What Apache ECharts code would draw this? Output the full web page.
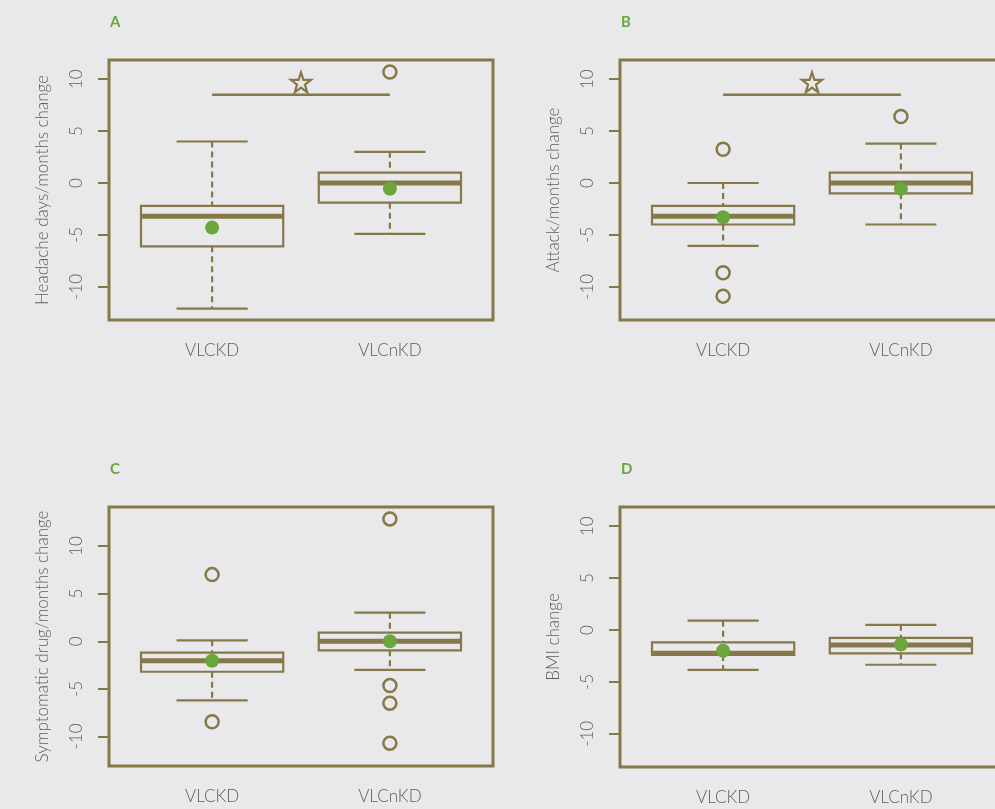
<!DOCTYPE html>
<html lang="en">
<head>
  <meta charset="UTF-8">
  <script src="https://cdn.jsdelivr.net/npm/echarts@6.0.0/dist/echarts.min.js"></script>
  <style>
    html, body { margin: 0; padding: 0; background: #e9e9eb; }
  </style>
</head>
<body>
  <div id="boxChart" style="width: 995px;height:809px;"></div>

  <script type="text/javascript">

    // groups on the x axis
    var groups = ['VLCKD', 'VLCnKD'];
    var panelLetters = ['A', 'B', 'C', 'D'];
    var yNames = [
      'Headache days/months change',
      'Attack/months change',
      'Symptomatic drug/months change',
      'BMI change'
    ];
    var yTicks = [-10, -5, 0, 5, 10];

    // box stats per group: [lower whisker, Q1, median, Q3, upper whisker]
    var statsA = [[-12.1, -6.1, -3.2, -2.2, 4.0], [-4.9, -1.9, 0.0, 1.0, 3.0]];
    var statsB = [[-6.05, -4.0, -3.2, -2.2, 0.0], [-4.0, -1.0, 0.0, 1.0, 3.8]];
    var statsC = [[-6.2, -3.2, -2.05, -1.2, 0.1], [-3.0, -0.95, 0.0, 0.9, 3.0]];
    var statsD = [[-3.85, -2.4, -2.25, -1.2, 0.9], [-3.35, -2.25, -1.45, -0.75, 0.5]];

    // group means
    var meansA = [-4.3, -0.55];
    var meansB = [-3.3, -0.55];
    var meansC = [-2.05, 0.0];
    var meansD = [-2.0, -1.4];

    // outliers: [group index (1-based), value]
    var outliersA = [[2, 10.7]];
    var outliersB = [[1, 3.25], [1, -8.65], [1, -10.9], [2, 6.4]];
    var outliersC = [[1, 7.0], [1, -8.45], [2, 12.85], [2, -4.65], [2, -6.5], [2, -10.7]];
    var outliersD = [];

    // significance bar: [from group, to group, bar value, star value]
    var sigA = [1, 2, 8.5, 9.7];
    var sigB = [1, 2, 8.5, 9.7];

    // y ranges of each panel
    var yMin = [-13.2, -13.2, -13.1, -13.2];
    var yMax = [11.85, 11.85, 14.1, 11.85];

    var olive = '#857849';
    var green = '#6aa63c';
    var textGray = '#5e5e62';
    var starPath = 'path://M50,2 L61.5,36 L97,36 L68.5,57 L79.5,92 L50,71 L20.5,92 L31.5,57 L3,36 L38.5,36 Z';

    var panels = [
      { stats: statsA, means: meansA, outliers: outliersA, sig: sigA },
      { stats: statsB, means: meansB, outliers: outliersB, sig: sigB },
      { stats: statsC, means: meansC, outliers: outliersC, sig: null },
      { stats: statsD, means: meansD, outliers: outliersD, sig: null }
    ];

    var gridPos = [
      { left: 109, top: 60, width: 384, height: 260 },
      { left: 620, top: 60, width: 384, height: 260 },
      { left: 109, top: 507, width: 384, height: 259 },
      { left: 620, top: 507, width: 384, height: 260 }
    ];
    var letterTop = [10, 10, 457, 457];

    function renderBox(params, api) {
        var x = api.value(0);
        var pLow = api.coord([x, api.value(1)]);
        var pQ1 = api.coord([x, api.value(2)]);
        var pMed = api.coord([x, api.value(3)]);
        var pQ3 = api.coord([x, api.value(4)]);
        var pHigh = api.coord([x, api.value(5)]);
        var cx = pMed[0];
        var boxW = api.size([0.8, 0])[0];
        var capW = boxW / 2;
        var thin = { stroke: olive, lineWidth: 2.2, fill: null };
        var dashed = { stroke: olive, lineWidth: 2.2, lineDash: [6, 4] };
        return {
            type: 'group',
            children: [
                { type: 'line', shape: { x1: cx, y1: pHigh[1], x2: cx, y2: pQ3[1] }, style: dashed },
                { type: 'line', shape: { x1: cx, y1: pQ1[1], x2: cx, y2: pLow[1] }, style: dashed },
                { type: 'line', shape: { x1: cx - capW / 2, y1: pHigh[1], x2: cx + capW / 2, y2: pHigh[1] }, style: thin },
                { type: 'line', shape: { x1: cx - capW / 2, y1: pLow[1], x2: cx + capW / 2, y2: pLow[1] }, style: thin },
                {
                    type: 'rect',
                    shape: { x: cx - boxW / 2, y: pQ3[1], width: boxW, height: pQ1[1] - pQ3[1] },
                    style: { stroke: olive, lineWidth: 2.2, fill: 'none' }
                },
                { type: 'line', shape: { x1: cx - boxW / 2, y1: pMed[1], x2: cx + boxW / 2, y2: pMed[1] }, style: { stroke: olive, lineWidth: 5 } }
            ]
        };
    }

    function createBoxCharts() {
        const chart = echarts.init(document.getElementById('boxChart'));

        let grids = [], xAxes = [], yAxes = [], series = [], titles = [];

        panels.forEach(function (p, i) {
            var g = gridPos[i];
            grids.push({
                left: g.left, top: g.top, width: g.width, height: g.height,
                outerBoundsMode: 'none',
                show: true, borderColor: olive, borderWidth: 3, backgroundColor: 'transparent'
            });
            titles.push({
                text: panelLetters[i],
                left: g.left - 4,
                top: letterTop[i],
                textStyle: { color: green, fontSize: 15, fontWeight: 'bold', fontFamily: 'Lato' }
            });
            xAxes.push({
                type: 'value', gridIndex: i, min: 0.42, max: 2.58,
                splitLine: { show: false }, axisLine: { show: false }, axisTick: { show: false },
                axisLabel: {
                    customValues: [1, 2],
                    formatter: function (v) { return groups[Math.round(v) - 1]; },
                    color: textGray, fontSize: 17, fontFamily: 'Lato', fontWeight: 300, margin: 22
                }
            });
            yAxes.push({
                type: 'value', gridIndex: i, min: yMin[i], max: yMax[i],
                name: yNames[i], nameLocation: 'middle', nameRotate: 90, nameGap: 58,
                nameTextStyle: { color: textGray, fontSize: 17, fontFamily: 'Lato', fontWeight: 300 },
                splitLine: { show: false },
                axisLine: { show: false },
                axisTick: { show: true, customValues: yTicks, length: 11, lineStyle: { color: olive, width: 2 } },
                axisLabel: {
                    customValues: yTicks, rotate: 90, color: textGray, fontSize: 17,
                    fontFamily: 'Lato', fontWeight: 300, margin: 24
                }
            });

            series.push({
                type: 'custom', xAxisIndex: i, yAxisIndex: i,
                renderItem: renderBox,
                encode: { x: 0, y: [1, 2, 3, 4, 5] },
                data: p.stats.map(function (s, k) { return [k + 1].concat(s); }),
                z: 2
            });
            series.push({
                type: 'scatter', xAxisIndex: i, yAxisIndex: i,
                symbol: 'circle', symbolSize: 13,
                itemStyle: { color: 'rgba(0,0,0,0)', borderColor: olive, borderWidth: 2.5, opacity: 1 },
                data: p.outliers, z: 3
            });
            series.push({
                type: 'scatter', xAxisIndex: i, yAxisIndex: i,
                symbol: 'circle', symbolSize: 14,
                itemStyle: { color: green, opacity: 1 },
                data: p.means.map(function (m, k) { return [k + 1, m]; }),
                z: 5
            });
            if (p.sig) {
                series.push({
                    type: 'line', xAxisIndex: i, yAxisIndex: i,
                    showSymbol: false, symbol: 'none',
                    lineStyle: { color: olive, width: 2.5 },
                    data: [[p.sig[0], p.sig[2]], [p.sig[1], p.sig[2]]], z: 3
                });
                series.push({
                    type: 'scatter', xAxisIndex: i, yAxisIndex: i,
                    symbol: starPath, symbolSize: 20,
                    itemStyle: { color: 'rgba(0,0,0,0)', borderColor: olive, borderWidth: 2.2, opacity: 1 },
                    data: [[(p.sig[0] + p.sig[1]) / 2, p.sig[3]]], z: 3
                });
            }
        });

        let option = {
            backgroundColor: '#e9e9eb',
            animation: false,
            title: titles,
            grid: grids,
            xAxis: xAxes,
            yAxis: yAxes,
            series: series
        };

        chart.setOption(option);
    }
    createBoxCharts();
  </script>
</body>
</html>
